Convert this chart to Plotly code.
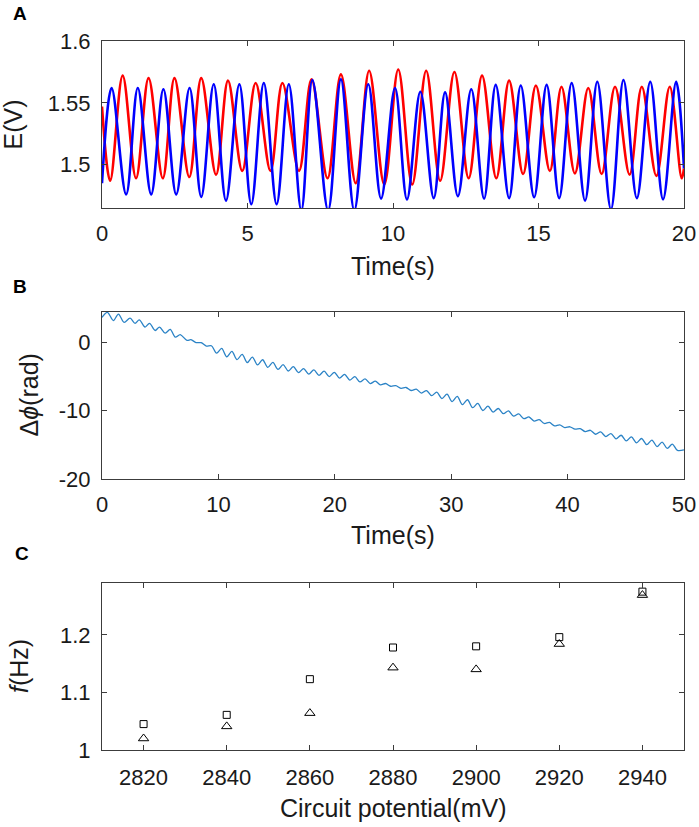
import plotly.graph_objects as go

# ---- panel A: turning points of the two electrode potentials (time s, E V)
red_t = [0, 0.28, 0.71, 1.17, 1.60, 2.09, 2.49, 3.00, 3.41, 3.92, 4.33, 4.82, 5.28, 5.79,
         6.20, 6.77, 7.20, 7.75, 8.21, 8.72, 9.18, 9.70, 10.18, 10.66, 11.14, 11.62, 12.11,
         12.60, 13.06, 13.55, 13.99, 14.47, 14.91, 15.39, 15.79, 16.25, 16.71, 17.17, 17.63,
         18.13, 18.55, 19.05, 19.51, 19.92, 20.0]
red_e = [1.547, 1.487, 1.572, 1.489, 1.570, 1.489, 1.570, 1.490, 1.570, 1.492, 1.568, 1.495,
         1.566, 1.495, 1.566, 1.495, 1.569, 1.489, 1.573, 1.485, 1.576, 1.484, 1.577, 1.484,
         1.576, 1.487, 1.575, 1.489, 1.572, 1.489, 1.568, 1.4925, 1.564, 1.495, 1.563, 1.493,
         1.562, 1.4925, 1.563, 1.492, 1.563, 1.491, 1.563, 1.489, 1.497]

blue_t = [0, 0.33, 0.83, 1.23, 1.69, 2.11, 2.55, 3.01, 3.41, 3.84, 4.26, 4.72, 5.13, 5.56,
          6.00, 6.42, 6.85, 7.23, 7.77, 8.21, 8.67, 9.15, 9.59, 10.07, 10.48, 10.94, 11.40,
          11.79, 12.23, 12.69, 13.13, 13.53, 13.99, 14.39, 14.85, 15.28, 15.71, 16.14, 16.60,
          17.02, 17.49, 17.92, 18.38, 18.84, 19.28, 19.73, 20.0]
blue_e = [1.485, 1.562, 1.476, 1.562, 1.476, 1.561, 1.476, 1.562, 1.474, 1.565, 1.471, 1.565,
          1.468, 1.566, 1.468, 1.565, 1.463, 1.5685, 1.463, 1.569, 1.463, 1.565, 1.4726, 1.562,
          1.472, 1.559, 1.473, 1.5585, 1.4745, 1.561, 1.4726, 1.5645, 1.473, 1.564, 1.4737,
          1.5645, 1.473, 1.566, 1.471, 1.567, 1.464, 1.5685, 1.473, 1.567, 1.472, 1.567, 1.497]

# ---- panel B: phase difference turning points (time s, rad)
phase_t = [0, 0.46, 0.98, 1.41, 1.90, 2.41, 2.84, 3.20, 3.70, 4.08, 4.57, 4.94, 5.43, 5.86,
           6.30, 6.72, 7.30, 7.64, 8.08, 8.52, 8.96, 9.40, 9.84, 10.28, 10.72, 11.16, 11.60,
           12.04, 12.48, 12.92, 13.36, 13.80, 14.24, 14.68, 15.12, 15.56, 16.00, 16.44, 16.88,
           17.32, 17.76, 18.20, 18.64, 19.08, 19.52, 19.96, 20.40, 20.84, 21.28, 21.72, 22.16,
           22.60, 23.04, 23.48, 23.92, 24.36, 24.80, 25.24, 25.68, 26.12, 26.56, 27.00, 27.44,
           27.88, 28.32, 28.76, 29.20, 29.64, 30.08, 30.52, 30.96, 31.40, 31.84, 32.28, 32.72,
           33.16, 33.60, 34.04, 34.48, 34.92, 35.36, 35.80, 36.24, 36.68, 37.12, 37.56, 38.00,
           38.44, 38.88, 39.32, 39.76, 40.20, 40.64, 41.08, 41.52, 41.96, 42.40, 42.84, 43.28,
           43.72, 44.16, 44.60, 45.04, 45.48, 45.92, 46.36, 46.80, 47.24, 47.68, 48.12, 48.56,
           49.00, 49.44, 50.0]
phase_v = [3.60, 4.35, 3.14, 4.10, 2.90, 3.50, 2.75, 3.25, 2.20, 2.75, 1.70, 2.20, 1.30, 1.85,
           0.72, 1.10, 0.25, 0.35, -0.06, -0.09, -0.57, -0.53, -1.61, -0.93, -2.14, -1.35, -2.57,
           -1.78, -2.98, -2.18, -3.34, -2.58, -3.70, -2.97, -3.99, -3.29, -4.22, -3.59, -4.46,
           -3.87, -4.67, -4.06, -4.85, -4.24, -5.03, -4.42, -5.25, -4.72, -5.54, -5.05, -5.82,
           -5.37, -6.05, -5.71, -6.25, -6.05, -6.45, -6.37, -6.75, -6.63, -7.07, -6.87, -7.45,
           -7.08, -7.83, -7.31, -8.26, -7.61, -8.70, -7.92, -9.14, -8.42, -9.58, -8.95, -9.99,
           -9.36, -10.23, -9.70, -10.46, -10.06, -10.82, -10.50, -11.18, -10.94, -11.54, -11.34, -11.89,
           -11.74, -12.24, -12.09, -12.49, -12.37, -12.72, -12.64, -13.08, -12.88, -13.46, -13.12, -13.80,
           -13.37, -14.13, -13.61, -14.44, -13.85, -14.71, -14.08, -14.98, -14.31, -15.26, -14.60, -15.54,
           -14.89, -15.83, -15.75]

# ---- panel C: frequency vs circuit potential
potential = [2820, 2840, 2860, 2880, 2900, 2920, 2940]
freq_sq = [1.045, 1.061, 1.123, 1.178, 1.180, 1.196, 1.275]
freq_tri = [1.020, 1.041, 1.064, 1.143, 1.140, 1.184, 1.269]

FONT = "Liberation Sans, Arial, sans-serif"
INK = "#1a1a1a"
AXC = "#3c3c3c"

fig = go.Figure()

fig.add_trace(go.Scatter(x=red_t, y=red_e, mode="lines", line=dict(color="#ff0000", width=2.6, shape="spline", smoothing=1.0),
                         xaxis="x", yaxis="y", showlegend=False))
fig.add_trace(go.Scatter(x=blue_t, y=blue_e, mode="lines", line=dict(color="#0000ff", width=2.6, shape="spline", smoothing=1.0),
                         xaxis="x", yaxis="y", showlegend=False))
fig.add_trace(go.Scatter(x=phase_t, y=phase_v, mode="lines", line=dict(color="#2b83c6", width=1.3, shape="spline", smoothing=0.9),
                         xaxis="x2", yaxis="y2", showlegend=False))
fig.add_trace(go.Scatter(x=potential, y=freq_sq, mode="markers",
                         marker=dict(symbol="square-open", size=7, color="black", line=dict(width=1)),
                         xaxis="x3", yaxis="y3", showlegend=False))
fig.add_trace(go.Scatter(x=potential, y=freq_tri, mode="markers",
                         marker=dict(symbol="triangle-up-open", size=9, color="black", line=dict(width=1)),
                         xaxis="x3", yaxis="y3", showlegend=False))

W, H = 699, 827
xdom = [102 / W, 684 / W]


def ydom(top, bottom):
    return [1 - bottom / H, 1 - top / H]


common = dict(showline=True, mirror="allticks", linecolor=AXC, linewidth=1, ticks="inside", ticklen=5,
              tickcolor=AXC, showgrid=False, zeroline=False, automargin=False,
              tickfont=dict(size=22, color=INK, family=FONT))

fig.update_layout(
    width=W, height=H, margin=dict(l=0, r=0, t=0, b=0),
    paper_bgcolor="white", plot_bgcolor="white",
    font=dict(family=FONT, color=INK),
    xaxis=dict(domain=xdom, anchor="y", range=[0, 20], tickvals=[0, 5, 10, 15, 20],
               ticklabelstandoff=6, **common),
    yaxis=dict(domain=ydom(41, 208), anchor="x", range=[1.465, 1.6], tickvals=[1.5, 1.55, 1.6],
               ticktext=["1.5", "1.55", "1.6"], ticklabelstandoff=6, **common),
    xaxis2=dict(domain=xdom, anchor="y2", range=[0, 50], tickvals=[0, 10, 20, 30, 40, 50],
                ticklabelstandoff=6, **common),
    yaxis2=dict(domain=ydom(312, 479), anchor="x2", range=[-20, 4.4], tickvals=[-20, -10, 0],
                ticktext=["-20", "-10", "0"], ticklabelstandoff=6, **common),
    xaxis3=dict(domain=xdom, anchor="y3", range=[2810, 2950], tickvals=potential,
                ticklabelstandoff=8, **common),
    yaxis3=dict(domain=ydom(583, 750), anchor="x3", range=[1, 1.29], tickvals=[1, 1.1, 1.2],
                ticktext=["1", "1.1", "1.2"], ticklabelstandoff=6, **common),
)

xc = (102 + 684) / 2 / W
labels = [
    ("Time(s)", xc, 266, 0),
    ("E(V)", 13 / W, 124.5, -90),
    ("Time(s)", xc, 535, 0),
    ("\u0394<i>\u03d5</i>(rad)", 28 / W, 395.5, -90),
    ("Circuit potential(mV)", xc, 808, 0),
    ("<i>f</i>(Hz)", 19 / W, 666, -90),
]
for text, x, ypix, ang in labels:
    fig.add_annotation(text=text, x=x, y=1 - ypix / H, xref="paper", yref="paper", showarrow=False,
                       textangle=ang, xanchor="center", yanchor="middle", font=dict(size=25, color=INK, family=FONT))

for letter, xpix, ypix in [("A", 20, 13), ("B", 20, 286), ("C", 22, 553)]:
    fig.add_annotation(text="<b>%s</b>" % letter, x=xpix / W, y=1 - ypix / H, xref="paper", yref="paper",
                       showarrow=False, xanchor="center", yanchor="middle", font=dict(size=19, color="black", family=FONT))

# the default page keeps an 8px body margin; drop it so the figure sits at the window corner
fig.write_html("out.html", config={"displayModeBar": False},
               post_script="document.body.style.margin='0';")
